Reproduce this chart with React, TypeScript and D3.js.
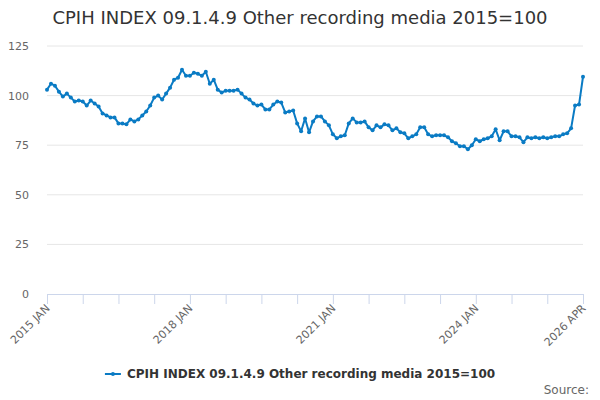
import { useEffect, useRef } from 'react'
import * as d3 from 'd3'

const title = "CPIH INDEX 09.1.4.9 Other recording media 2015=100"
const seriesName = "CPIH INDEX 09.1.4.9 Other recording media 2015=100"
const startYear = 2015

const values2015 = [103, 106, 105, 102, 99.5, 101, 99, 97, 97.5, 97, 95, 97.5]
const values2016 = [96, 94.5, 91, 90, 89, 89, 86, 86, 85.5, 88, 87, 88]
const values2017 = [90, 92, 95, 99, 100, 98, 101, 104, 108, 109, 113, 110]
const values2018 = [110, 111.5, 111, 110, 112, 106, 108, 103, 101.5, 102.5, 102.5, 102.5]
const values2019 = [103, 101, 99, 98, 96, 95, 95.5, 93, 93, 95.5, 97, 96.5]
const values2020 = [91.5, 92, 92.5, 86, 82, 88.5, 81.5, 87, 89.5, 89.5, 87, 85]
const values2021 = [80.5, 78.5, 79.5, 80, 86, 88.5, 86.5, 86.5, 87, 84, 82.5, 85]
const values2022 = [84, 85.5, 85, 82.5, 83.5, 81.5, 81, 78.5, 79.5, 80.5, 84, 84]
const values2023 = [80.5, 79.5, 80, 80, 80, 79, 77, 76, 74.5, 74.5, 73, 75]
const values2024 = [78, 77, 78, 78.5, 79.5, 83, 77.5, 82, 82, 79.5, 79.5, 79]
const values2025 = [76.5, 79, 78.5, 79, 78.5, 79, 78.5, 79, 79.5, 79.5, 80.5, 81]
const values2026 = [83.5, 95, 95.5, 109.5]

const yTicks = [0, 25, 50, 75, 100, 125]
const monthNames = ["JAN", "FEB", "MAR", "APR", "MAY", "JUN", "JUL", "AUG", "SEP", "OCT", "NOV", "DEC"]

const values = [
    ...values2015, ...values2016, ...values2017, ...values2018, ...values2019, ...values2020,
    ...values2021, ...values2022, ...values2023, ...values2024, ...values2025, ...values2026
]

const data = values.map((v, i) => ({ i, v }))

function label(i: number) {
    return `${startYear + Math.floor(i / 12)} ${monthNames[i % 12]}`
}

function LineChart({ width = 600, height = 400, marginTop = 46, marginRight = 17, marginBottom = 106, marginLeft = 47 }) {
    const chartRef = useRef<SVGSVGElement | null>(null)

    useEffect(() => {
        d3.select(chartRef.current).selectAll("*").remove()

        const font = "'DejaVu Sans', Verdana, sans-serif"
        const svg = d3.select(chartRef.current)
            .attr("viewBox", [0, 0, width, height])
            .attr("width", width)
            .attr("height", height)
            .style("font-family", font)

        svg.append("rect").attr("width", width).attr("height", height).attr("fill", "#fff")

        const last = data.length - 1
        const x = d3.scaleLinear()
            .domain([0, last])
            .range([marginLeft, width - marginRight])

        const y = d3.scaleLinear()
            .domain([0, 125])
            .range([height - marginBottom, marginTop])

        // grid
        svg.append("g")
            .selectAll("line")
            .data(yTicks.slice(1))
            .join("line")
            .attr("x1", marginLeft)
            .attr("x2", width - marginRight)
            .attr("y1", d => y(d))
            .attr("y2", d => y(d))
            .attr("stroke", "#e6e6e6")

        // y labels
        svg.append("g")
            .selectAll("text")
            .data(yTicks)
            .join("text")
            .attr("x", 29)
            .attr("y", d => y(d) + 4)
            .attr("text-anchor", "end")
            .attr("font-size", 11)
            .attr("fill", "#666")
            .text(d => d)

        // x axis, tick every 9 months, label every 36
        const tickIdx = d3.range(0, last + 1, 9)
        const xAxis = d3.axisBottom(x)
            .tickValues(tickIdx)
            .tickSize(10)
            .tickSizeOuter(0)
            .tickFormat((d: any) => (d % 36 === 0 || d === last) ? label(d) : "")

        const gx = svg.append("g")
            .attr("transform", `translate(0,${height - marginBottom})`)
            .call(xAxis)
        gx.select(".domain").attr("stroke", "#ccd6eb")
        gx.selectAll(".tick line").attr("stroke", "#ccd6eb")
        gx.selectAll(".tick text")
            .attr("font-family", font)
            .attr("font-size", 11)
            .attr("fill", "#666")
            .attr("text-anchor", "end")
            .attr("x", 0)
            .attr("y", 0)
            .attr("dy", 0)
            .attr("transform", "translate(3,15) rotate(-45)")

        // line
        const line = d3.line<{ i: number; v: number }>()
            .x(d => x(d.i))
            .y(d => y(d.v))

        svg.append("path")
            .datum(data)
            .attr("fill", "none")
            .attr("stroke", "#0a7bc4")
            .attr("stroke-width", 2)
            .attr("stroke-linejoin", "round")
            .attr("d", line)

        svg.append("g")
            .attr("fill", "#0a7bc4")
            .selectAll("circle")
            .data(data)
            .join("circle")
            .attr("cx", d => x(d.i))
            .attr("cy", d => y(d.v))
            .attr("r", 2)

        // title
        svg.append("text")
            .attr("x", width / 2)
            .attr("y", 24)
            .attr("text-anchor", "middle")
            .attr("font-size", 18)
            .attr("fill", "#333")
            .text(title)

        // legend
        const lg = svg.append("g").attr("transform", `translate(${width / 2 + 3},374)`)
        const legendText = lg.append("text")
            .attr("x", 8)
            .attr("y", 4)
            .attr("text-anchor", "middle")
            .attr("font-size", 12)
            .attr("font-weight", "bold")
            .attr("fill", "#333")
            .text(seriesName)
        const tw = (legendText.node() as SVGTextElement).getComputedTextLength()
        const lx = 8 - tw / 2 - 22
        lg.append("line")
            .attr("x1", lx).attr("x2", lx + 16)
            .attr("y1", 0).attr("y2", 0)
            .attr("stroke", "#0a7bc4").attr("stroke-width", 2)
        lg.append("circle").attr("cx", lx + 8).attr("cy", 0).attr("r", 2).attr("fill", "#0a7bc4")

        // source
        svg.append("text")
            .attr("x", 589)
            .attr("y", 394)
            .attr("text-anchor", "end")
            .attr("font-size", 12)
            .attr("fill", "#666")
            .text("Source:")
    }, [width, height])

    return (
        <>
            <svg ref={chartRef} style={{ position: "absolute", left: 0, top: 0 }}></svg>
        </>
    )
}

export default function App() {
    return <LineChart />
}
